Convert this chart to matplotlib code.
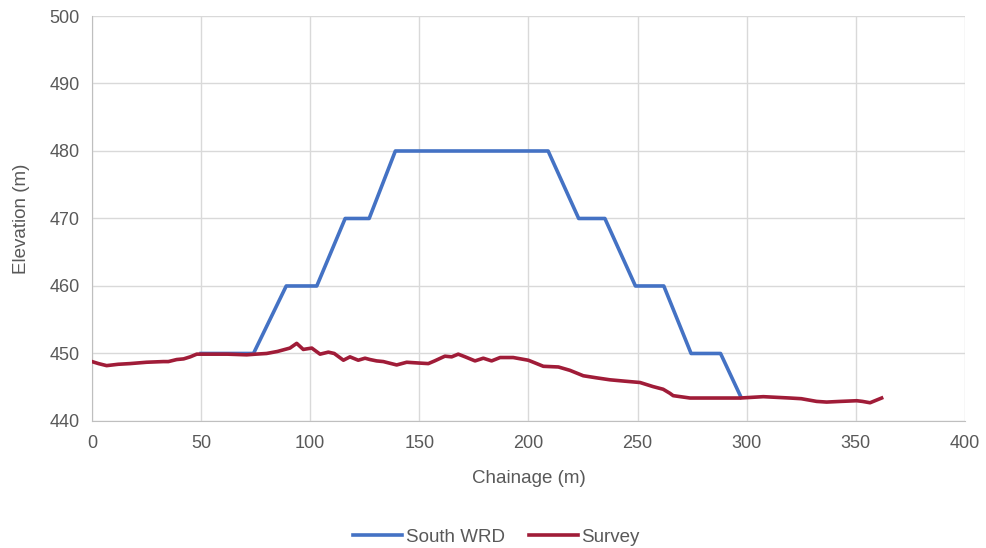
import matplotlib
matplotlib.use('Agg')
import matplotlib.pyplot as plt

plt.rcParams['font.family'] = ['Liberation Sans', 'DejaVu Sans']

# South WRD design profile
wrd_x = [50, 74, 89, 103, 116, 127, 139, 209, 223, 235, 249, 262, 274.5, 288, 297.4]
wrd_y = [450, 450, 460, 460, 470, 470, 480, 480, 470, 470, 460, 460, 450, 450, 443.5]

# Ground survey
srv_x = [0, 3, 6.7, 12, 17.4, 25, 32.7, 35, 38.8, 42, 45, 48, 55, 62, 70.9, 75, 80, 85,
         90.7, 93.8, 96.8, 100.7, 104.5, 108.3, 111, 115.2, 118.2, 122, 125.1, 127.4,
         130.4, 133.5, 139.6, 144.2, 149, 154.1, 157, 161.7, 164.8, 167.8, 171, 175.5,
         179.3, 183.1, 187, 193, 199.9, 203, 206.8, 213.7, 219, 225.1, 231, 237.3,
         244, 251.1, 257, 261.7, 264.8, 266.3, 274, 285, 297, 307.6, 319.8, 325, 332,
         336.6, 343, 350.4, 353, 356.5, 361.8]
srv_y = [448.8, 448.5, 448.2, 448.4, 448.5, 448.7, 448.8, 448.8, 449.1, 449.2, 449.5,
         449.9, 449.9, 449.9, 449.8, 449.9, 450.0, 450.3, 450.8, 451.5, 450.6, 450.8,
         449.9, 450.2, 450.0, 449.0, 449.5, 449.0, 449.3, 449.1, 448.9, 448.8, 448.3,
         448.7, 448.6, 448.5, 448.9, 449.6, 449.5, 449.9, 449.5, 448.9, 449.3, 448.9,
         449.4, 449.4, 449.0, 448.6, 448.1, 448.0, 447.5, 446.7, 446.4, 446.1, 445.9,
         445.7, 445.1, 444.7, 444.1, 443.75, 443.4, 443.4, 443.4, 443.6, 443.4, 443.3,
         442.9, 442.8, 442.9, 443.0, 442.9, 442.7, 443.4]

x_ticks = [0, 50, 100, 150, 200, 250, 300, 350, 400]
y_ticks = [440, 450, 460, 470, 480, 490, 500]

blue = '#4472C4'
red = '#A01C38'
txt = '#595959'

fig = plt.figure(figsize=(9.87, 5.48), dpi=100)
ax = fig.add_axes([0.0932, 0.2318, 0.8845, 0.739])

ax.plot(wrd_x, wrd_y, color=blue, lw=2.6, label='South WRD', zorder=3)
ax.plot(srv_x, srv_y, color=red, lw=2.6, label='Survey', zorder=4)

ax.set_xlim(0, 400)
ax.set_ylim(440, 500)
ax.set_xticks(x_ticks)
ax.set_yticks(y_ticks)
ax.grid(True, color='#d9d9d9', lw=1)
ax.set_axisbelow(True)
for s in ['top', 'right']:
    ax.spines[s].set_visible(False)
for s in ['left', 'bottom']:
    ax.spines[s].set_color('#bfbfbf')
ax.tick_params(axis='x', length=0, labelsize=13, colors=txt, pad=10)
ax.tick_params(axis='y', length=0, labelsize=13, colors=txt, pad=9)

ax.set_xlabel('Chainage (m)', fontsize=13.5, color=txt, labelpad=13)
ax.set_ylabel('Elevation (m)', fontsize=13.5, color=txt, labelpad=14)

fig.legend(loc='lower center', bbox_to_anchor=(0.503, -0.027), ncol=2, frameon=False,
           fontsize=13.5, labelcolor=txt, handlelength=2.6, handletextpad=0.2,
           columnspacing=1.3)

fig.savefig('out.png', dpi=100)
